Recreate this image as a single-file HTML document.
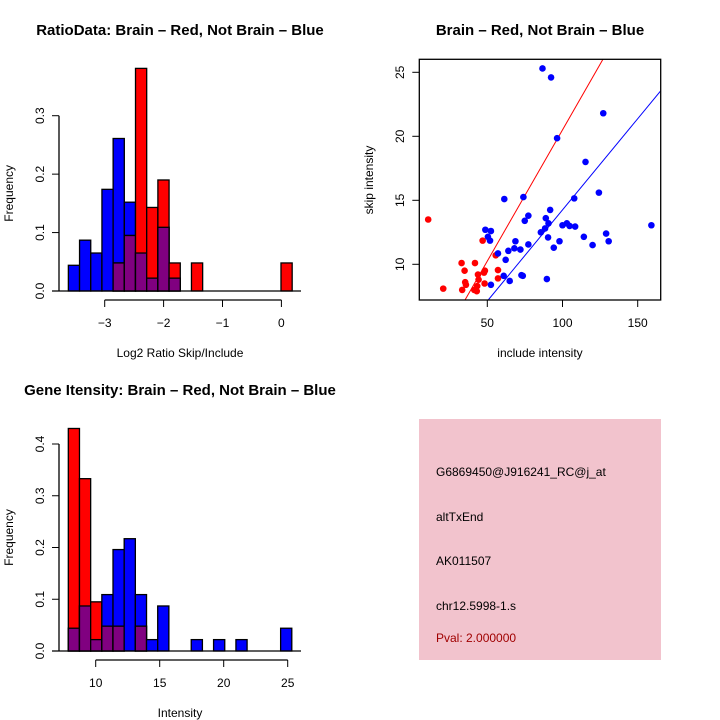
<!DOCTYPE html>
<html><head><meta charset="utf-8"><style>
body{margin:0;background:#fff;}
svg{display:block;font-family:"Liberation Sans",sans-serif;}
</style></head><body>
<svg id="svg" width="720" height="720" viewBox="0 0 720 720">
<rect x="0" y="0" width="720" height="720" fill="#fff"/>
<g id="p1"></g>
<g id="p2"></g>
<g id="p3"></g>
<g>
<rect x="419" y="419" width="242" height="241" fill="#f2c3cd"/>
<text x="436" y="476" font-size="12">G6869450@J916241_RC@j_at</text>
<text x="436" y="521" font-size="12">altTxEnd</text>
<text x="436" y="565" font-size="12">AK011507</text>
<text x="436" y="610" font-size="12">chr12.5998-1.s</text>
<text x="436" y="642" font-size="12" fill="#a00000">Pval: 2.000000</text>
</g>
</svg>
<script>
// ---- Histogram 1 data ----
const h1Start = -3.617, h1Width = 0.19;
const h1Blue = [0.044,0.087,0.065,0.174,0.261,0.152,0.065,0.022,0.109,0.022,0,0,0,0,0,0,0,0,0,0];
const h1Red  = [0,0,0,0,0.048,0.095,0.381,0.143,0.190,0.048,0,0.048,0,0,0,0,0,0,0,0.048];
const h1XTicks = [-3,-2,-1,0];
const h1XLabels = ["\u22123","\u22122","\u22121","0"];
const h1YTicks = [0,0.1,0.2,0.3];
const h1YLabels = ["0.0","0.1","0.2","0.3"];
// ---- Histogram 2 data ----
const h2Start = 7.86, h2Width = 0.873;
const h2Blue = [0.044,0.087,0.022,0.109,0.196,0.217,0.109,0.022,0.087,0,0,0.022,0,0.022,0,0.022,0,0,0,0.044];
const h2Red  = [0.430,0.333,0.095,0.048,0.048,0,0.048,0,0,0,0,0,0,0,0,0,0,0,0,0];
const h2XTicks = [10,15,20,25];
const h2XLabels = ["10","15","20","25"];
const h2YTicks = [0,0.1,0.2,0.3,0.4];
const h2YLabels = ["0.0","0.1","0.2","0.3","0.4"];
// ---- Scatter data ----
const redX = [10.7,20.7,32.9,33.3,34.9,35.3,35.8,41.8,41.3,43,43.3,43.8,44.2,46.9,47.8,48.4,48.2,55.6,57.1,57.1];
const redY = [13.5,8.1,10.1,8.0,9.5,8.6,8.4,10.1,8.0,7.9,8.3,9.2,8.8,11.85,9.35,9.5,8.5,10.7,9.55,8.9];
const blueX = [86.7,92.4,127.1,96.4,115.3,124.2,61.3,74,107.8,91.8,77.3,74.9,88.9,90.7,159.1,100,102.9,104.7,108.4,48.7,52.4,50.4,51.8,88.4,85.6,129,90.4,114.2,98,130.7,120,68.7,68,64,72,77.3,94.2,57.1,62.2,60.9,64.9,72.7,73.6,52.4,89.6];
const blueY = [25.3,24.6,21.8,19.85,18.0,15.6,15.1,15.25,15.15,14.25,13.8,13.4,13.6,13.2,13.05,13.05,13.2,13.0,12.95,12.7,12.6,12.15,11.85,12.8,12.5,12.4,12.1,12.15,11.8,11.8,11.5,11.8,11.25,11.05,11.15,11.55,11.3,10.85,10.35,9.1,8.7,9.15,9.1,8.4,8.85];
const redSlope = 0.205, blueSlope = 0.1425;
const sXTicks = [50,100,150];
const sYTicks = [10,15,20,25];

const NS="http://www.w3.org/2000/svg";
function mk(parent,tag,attrs,name){const e=document.createElementNS(NS,tag);for(const k in attrs)e.setAttribute(k,attrs[k]);


parent.appendChild(e);return e;}
function txt(parent,x,y,s,size,name,extra){const e=mk(parent,'text',Object.assign({x:x,y:y,'font-size':size,'text-anchor':'middle'},extra||{}),name);e.textContent=s;return e;}

function hist(g,start,w,blue,red,xt,xl,yt,yl,xs,ys,title,xlab,xAxisY,titleY){
  const ax=v=>xs.p0+(v-xs.v0)*xs.k, ay=v=>ys.p0-(v-ys.v0)*ys.k;
  for(let i=0;i<blue.length;i++){const x0=ax(start+i*w),x1=ax(start+(i+1)*w);
    const b=blue[i],r=red[i];
    if(b>0) mk(g,'rect',{x:x0,y:ay(b),width:x1-x0,height:ay(0)-ay(b),fill:'#0000ff',stroke:'#000','stroke-width':1.3},'bar-blue');
    if(r>0) mk(g,'rect',{x:x0,y:ay(r),width:x1-x0,height:ay(0)-ay(r),fill:'#ff0000',stroke:'#000','stroke-width':1.3},'bar-red');
    const m=Math.min(b,r);
    if(m>0) mk(g,'rect',{x:x0,y:ay(m),width:x1-x0,height:ay(0)-ay(m),fill:'#800080',stroke:'#000','stroke-width':1.3},'bar-overlap');
  }
  mk(g,'line',{x1:52,y1:ay(0),x2:301,y2:ay(0),stroke:'#000','stroke-width':1.3},'baseline');
  mk(g,'line',{x1:59,y1:ay(yt[0]),x2:59,y2:ay(yt[yt.length-1]),stroke:'#000','stroke-width':1.3},'y-axis');
  yt.forEach((v,i)=>{mk(g,'line',{x1:52,y1:ay(v),x2:59,y2:ay(v),stroke:'#000'},'y-tick');
    txt(g,44,ay(v),yl[i],12,'y-tick-label',{transform:`rotate(-90 44 ${ay(v)})`});});
  mk(g,'line',{x1:ax(xt[0]),y1:xAxisY,x2:ax(xt[xt.length-1]),y2:xAxisY,stroke:'#000','stroke-width':1.3},'x-axis');
  xt.forEach((v,i)=>{mk(g,'line',{x1:ax(v),y1:xAxisY,x2:ax(v),y2:xAxisY+7,stroke:'#000'},'x-tick');
    txt(g,ax(v),xAxisY+27,xl[i],12,'x-tick-label');});
  txt(g,180,xAxisY+57,xlab,12,'x-axis-title');
  const yc=(ay(0)+ay(yt[yt.length-1]))/2-10;
  txt(g,13,yc,'Frequency',12,'y-axis-title',{transform:`rotate(-90 13 ${yc})`});
  txt(g,180,titleY,title,15,'chart-title',{'font-weight':'bold'});
}
hist(document.getElementById('p1'),h1Start,h1Width,h1Blue,h1Red,h1XTicks,h1XLabels,h1YTicks,h1YLabels,
 {v0:-3,p0:104.7,k:58.9},{v0:0,p0:291,k:584.3},'RatioData: Brain \u2013 Red, Not Brain \u2013 Blue','Log2 Ratio Skip/Include',300,35);
hist(document.getElementById('p3'),h2Start,h2Width,h2Blue,h2Red,h2XTicks,h2XLabels,h2YTicks,h2YLabels,
 {v0:10,p0:95.7,k:12.8},{v0:0,p0:651,k:517.5},'Gene Itensity: Brain \u2013 Red, Not Brain \u2013 Blue','Intensity',660,395);

// scatter
(function(){
  const g=document.getElementById('p2');
  const L=419.3,R=660.7,T=59.3,B=300;
  const sx=v=>487.3+(v-50)*1.504, sy=v=>264.3-(v-10)*12.8;
  const xmax=(R-487.3)/1.504+50, ymin=10-(B-264.3)/12.8, ymax=10+(264.3-T)/12.8;
  const cp=mk(g,'clipPath',{id:'clip'},'plot-clip');
  mk(cp,'rect',{x:L,y:T,width:R-L,height:B-T},'clip-rect');
  const lg=mk(g,'g',{'clip-path':'url(#clip)'},'fit-lines');
  mk(lg,'line',{x1:sx(ymin/redSlope),y1:sy(ymin),x2:sx(ymax/redSlope),y2:sy(ymax),stroke:'#ff0000','stroke-width':1},'red-fit-line');
  mk(lg,'line',{x1:sx(ymin/blueSlope),y1:sy(ymin),x2:sx(xmax),y2:sy(xmax*blueSlope),stroke:'#0000ff','stroke-width':1},'blue-fit-line');
  redX.forEach((x,i)=>mk(g,'circle',{cx:sx(x),cy:sy(redY[i]),r:3.3,fill:'#ff0000'},'point-red'));
  blueX.forEach((x,i)=>mk(g,'circle',{cx:sx(x),cy:sy(blueY[i]),r:3.3,fill:'#0000ff'},'point-blue'));
  mk(g,'rect',{x:L,y:T,width:R-L,height:B-T,fill:'none',stroke:'#000','stroke-width':1.3},'plot-box');
  sXTicks.forEach(v=>{mk(g,'line',{x1:sx(v),y1:B,x2:sx(v),y2:B+7,stroke:'#000'},'x-tick');txt(g,sx(v),B+27,String(v),12,'x-tick-label');});
  sYTicks.forEach(v=>{mk(g,'line',{x1:L-7,y1:sy(v),x2:L,y2:sy(v),stroke:'#000'},'y-tick');txt(g,404,sy(v),String(v),12,'y-tick-label',{transform:`rotate(-90 404 ${sy(v)})`});});
  txt(g,540,357,'include intensity',12,'x-axis-title');
  txt(g,373,180,'skip intensity',12,'y-axis-title',{transform:'rotate(-90 373 180)'});
  txt(g,540,35,'Brain \u2013 Red, Not Brain \u2013 Blue',15,'chart-title',{'font-weight':'bold'});
})();
</script>
</body></html>
